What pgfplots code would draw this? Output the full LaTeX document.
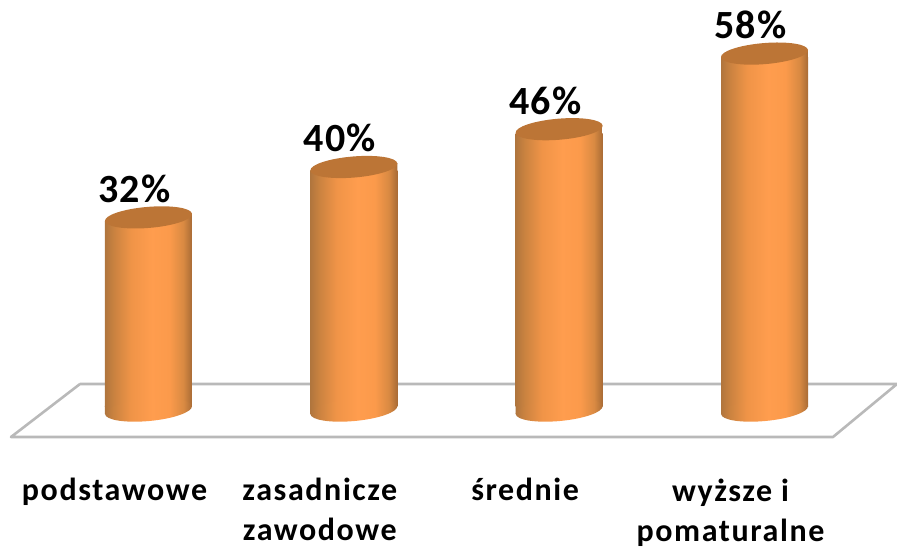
\documentclass[border=0pt]{standalone}
\usepackage{fontspec}
\setmainfont{Carlito}
\usepackage{pgfplots}
\pgfplotsset{compat=1.18}
\newfontfamily\lblfont[LetterSpace=5]{Carlito}
\newfontfamily\valfont[LetterSpace=3]{Carlito}

\definecolor{floorgray}{HTML}{B9B9B9}
\definecolor{cyltopc}{HTML}{BC7536}
\pgfdeclarehorizontalshading{cyl}{100bp}{%
  rgb(0bp)=(0.69,0.46,0.24);
  rgb(25bp)=(0.69,0.46,0.24);
  rgb(30bp)=(0.79,0.51,0.25);
  rgb(40bp)=(0.94,0.58,0.28);
  rgb(52bp)=(1,0.615,0.306);
  rgb(62bp)=(0.985,0.604,0.294);
  rgb(70bp)=(0.85,0.54,0.26);
  rgb(75bp)=(0.66,0.42,0.21);
  rgb(100bp)=(0.66,0.42,0.21)}
% ends of the cylinders: tilted ellipses, with a wedge to square off the flat bar
\pgfdeclareplotmark{cyltop}{%
  \pgftext{\tikz{\useasboundingbox[draw=none] (-50pt,-20pt) rectangle (50pt,20pt);
    \shade[shading=cyl,draw=none] (-43.5pt,-4pt) -- (43.5pt,4pt) -- (43.5pt,-4pt) -- cycle;}}%
  \pgfsetfillcolor{cyltopc}%
  \pgfpathellipse{\pgfpointorigin}{\pgfpoint{43.5pt}{3.6pt}}{\pgfpoint{-0.9pt}{10.5pt}}%
  \pgfusepathqfill}
\pgfdeclareplotmark{cylbot}{%
  \pgftext{\tikz{\useasboundingbox[draw=none] (-50pt,-20pt) rectangle (50pt,20pt);
    \shade[shading=cyl,draw=none] (43.5pt,4pt) -- (-43.5pt,4pt) -- (-43.5pt,-4pt) -- cycle;
    \shade[shading=cyl,draw=none] (43.5pt,4pt)
      .. controls (43pt,10.08pt) and (23.13pt,13.21pt) .. (-0.9pt,11pt)
      .. controls (-24.93pt,8.79pt) and (-44pt,2.08pt) .. (-43.5pt,-4pt)
      .. controls (-43pt,-10.08pt) and (-23.13pt,-13.21pt) .. (0.9pt,-11pt)
      .. controls (24.93pt,-8.79pt) and (44pt,-2.08pt) .. (43.5pt,4pt) -- cycle;}}}

\pgfplotsset{cylbody/.style={ybar,bar width=87pt,draw=none,shade,shading=cyl,
  y filter/.code={\pgfmathparse{##1-2.698}}}}

\begin{document}
\begin{tikzpicture}
\begin{axis}[
  at={(0,0)}, anchor=south west,
  scale only axis, width=897pt, height=550pt,
  xmin=-0.7232, xmax=3.6453,
  ymin=-22.857, ymax=64.444,
  y filter/.code={\pgfmathparse{#1-2.063}},
  clip=false,
  axis line style={draw=none},
  major tick length=0pt,
  ytick=\empty,
  xtick={0,1,2,3},
  xticklabels={podstawowe,{zasadnicze\\zawodowe},średnie,{wyższe i\\pomaturalne}},
  x tick label style={font=\lblfont\bfseries\fontsize{32}{40}\selectfont,
    align=center,anchor=north,xshift=-34pt,yshift=75pt},
  /pgf/number format/assume math mode=true,
]
% floor
\addplot[floorgray,line width=2.6pt,line join=round] coordinates {
  (-0.3336,5.556) (3.6453,5.556) (3.3336,-2.857) (-0.6696,-2.857) (-0.3336,5.556)};
% cylinder bottoms, bodies, tops
\addplot[only marks,mark=cylbot] coordinates {(0,1.43) (1,1.43) (2,1.43) (3,1.43)};
\addplot[cylbody] coordinates {(0,32)};
\addplot[cylbody] coordinates {(1,40)};
\addplot[cylbody] coordinates {(2,46)};
\addplot[cylbody] coordinates {(3,58)};
\addplot[only marks,mark=cyltop,
  point meta=rawy,
  nodes near coords={\pgfmathprintnumber[precision=0]{\pgfplotspointmeta}\%},
  every node near coord/.append style={anchor=base,xshift=-14pt,yshift=15pt,
    font=\valfont\bfseries\fontsize{40}{40}\selectfont,black},
] coordinates {(0,32) (1,40) (2,46) (3,58)};
\end{axis}
\pgfresetboundingbox
\useasboundingbox (0,0) rectangle (897pt,550pt);
\end{tikzpicture}
\end{document}
